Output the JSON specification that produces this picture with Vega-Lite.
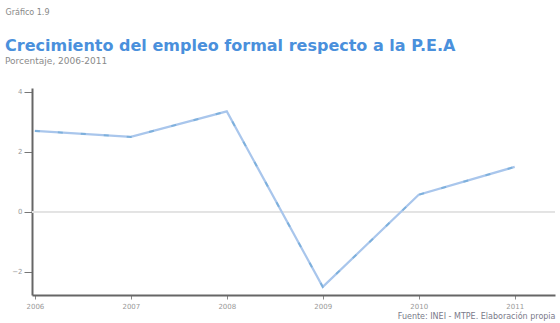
{
  "$schema": "https://vega.github.io/schema/vega-lite/v6.json",
  "width": 523,
  "height": 207,
  "autosize": {"type": "none"},
  "padding": {"left": 32, "top": 88, "right": 5, "bottom": 28},
  "background": "white",
  "view": {"stroke": null},
  "title": {
    "text": "Crecimiento del empleo formal respecto a la P.E.A",
    "subtitle": "Porcentaje, 2006-2011",
    "anchor": "start",
    "frame": "group",
    "dx": -27,
    "offset": -58,
    "font": "DejaVu Sans",
    "fontSize": 16,
    "fontWeight": "bold",
    "color": "#4a90dc",
    "subtitleFont": "DejaVu Sans",
    "subtitleFontSize": 9,
    "subtitleColor": "#8a8a8a",
    "subtitlePadding": 3
  },
  "data": {
    "values": [
      {"anio": 2006, "crecimiento": 2.7},
      {"anio": 2007, "crecimiento": 2.5},
      {"anio": 2008, "crecimiento": 3.35},
      {"anio": 2009, "crecimiento": -2.5},
      {"anio": 2010, "crecimiento": 0.57},
      {"anio": 2011, "crecimiento": 1.5}
    ]
  },
  "layer": [
    {
      "mark": {"type": "rule", "color": "#e4e4e4", "strokeWidth": 1},
      "encoding": {"y": {"datum": 0, "type": "quantitative"}}
    },
    {
      "mark": {"type": "line", "color": "#a9c6ec", "strokeWidth": 2.2},
      "encoding": {
        "x": {
          "field": "anio",
          "type": "quantitative",
          "scale": {"domain": [2005.97, 2011.42], "nice": false, "zero": false},
          "axis": {
            "values": [2006, 2007, 2008, 2009, 2010, 2011],
            "format": "d",
            "grid": false,
            "domainColor": "#666666",
            "domainWidth": 2,
            "tickColor": "#888888",
            "tickSize": 4,
            "labelFont": "DejaVu Sans",
            "labelFontSize": 7,
            "labelColor": "#999999",
            "labelPadding": 3,
            "title": "Fuente: INEI - MTPE. Elaboración propia",
            "titleFont": "DejaVu Sans",
            "titleFontSize": 8,
            "titleFontWeight": "normal",
            "titleColor": "#7a7a8a",
            "titleAnchor": "end",
            "titleAlign": "right",
            "titleBaseline": "middle",
            "titleX": 523,
            "titleY": 21
          }
        },
        "y": {
          "field": "crecimiento",
          "type": "quantitative",
          "scale": {"domain": [-2.77, 4.13], "nice": false, "zero": false},
          "axis": {
            "values": [-2, 0, 2, 4],
            "format": "d",
            "grid": false,
            "domainColor": "#666666",
            "domainWidth": 2,
            "tickColor": "#777777",
            "tickSize": 8,
            "labelFont": "DejaVu Sans",
            "labelFontSize": 7,
            "labelColor": "#999999",
            "labelPadding": 2,
            "title": "Gráfico 1.9",
            "titleFont": "DejaVu Sans",
            "titleFontSize": 8,
            "titleFontWeight": "normal",
            "titleColor": "#888888",
            "titleAngle": 0,
            "titleAlign": "left",
            "titleBaseline": "middle",
            "titleX": -27,
            "titleY": -76
          }
        }
      }
    },
    {
      "mark": {"type": "line", "color": "#5a9fd0", "strokeWidth": 2, "strokeDash": [5, 18], "opacity": 0.55},
      "encoding": {
        "x": {"field": "anio", "type": "quantitative"},
        "y": {"field": "crecimiento", "type": "quantitative"}
      }
    }
  ]
}
